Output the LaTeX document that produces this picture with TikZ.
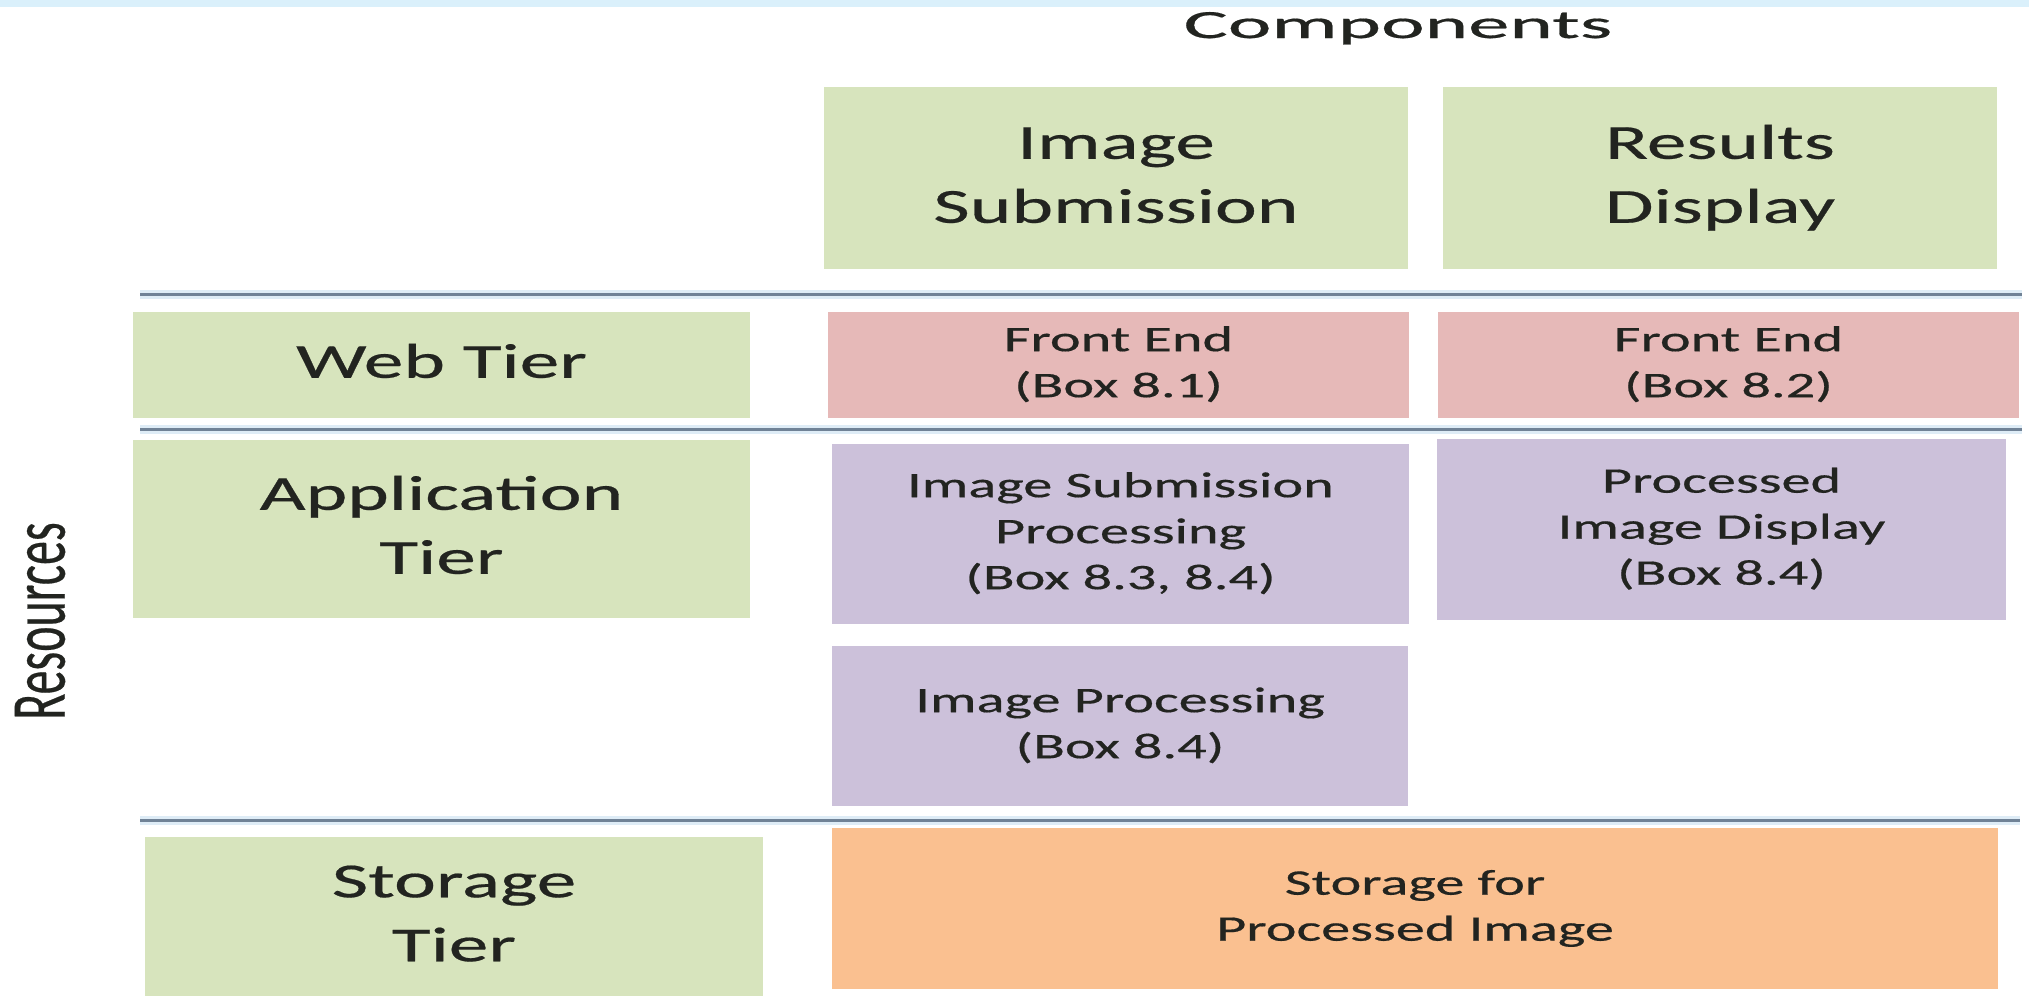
\documentclass[tikz,border=0pt]{standalone}
\usepackage{fontspec}
\setmainfont{Carlito}[FakeBold=0.4]
\usepackage{graphicx}

\definecolor{tiergreen}{RGB}{215,228,189}
\definecolor{frontred}{RGB}{230,185,184}
\definecolor{appviolet}{RGB}{204,193,218}
\definecolor{storeorange}{RGB}{250,192,144}
\definecolor{bandblue}{RGB}{218,240,251}
\definecolor{rulecore}{RGB}{112,130,150}
\definecolor{rulehalo}{RGB}{222,236,246}
\definecolor{ink}{RGB}{34,36,32}

% text is set wide: glyphs stretched horizontally
\newcommand\wide[1]{\scalebox{1.62}[1]{\begin{tabular}{@{}c@{}}#1\end{tabular}}}
% a filled cell given by its corners in pixel units
\newcommand\cell[7]{%
  \node[#2, minimum width={(#5-#3)*0.5pt}, minimum height={(#6-#4)*0.5pt}]
    (#1) at ({(#3+#5)/2},{(#4+#6)/2}) {#7};}

\tikzset{
  cellbase/.style={rectangle, inner sep=0pt, outer sep=0pt, text=ink, align=center},
  bigcell/.style={cellbase, font=\fontsize{24.5}{32}\selectfont},
  smallcell/.style={cellbase, font=\fontsize{18}{23}\selectfont},
  greencell/.style={bigcell, fill=tiergreen},
  redcell/.style={smallcell, fill=frontred},
  violetcell/.style={smallcell, fill=appviolet},
  orangecell/.style={smallcell, fill=storeorange},
  sepline/.style={draw=rulecore, line width=1.5pt,
    preaction={draw=rulehalo, line width=4.5pt}},
  axislabel/.style={inner sep=0pt, text=ink}
}

\begin{document}
\begin{tikzpicture}[x=0.5pt, y=-0.5pt]
  \useasboundingbox (0,0) rectangle (2029,1002);
  \fill[white] (0,0) rectangle (2029,1002);
  \fill[bandblue] (0,0) rectangle (2029,7);

  % axis titles
  \node[axislabel, anchor=base, font=\fontsize{20}{24}\selectfont]
    (components) at (1398,38) {\scalebox{2.07}[1]{Components}};
  \node[axislabel, rotate=90, font=\fontsize{24}{28}\selectfont]
    (resources) at (40,621) {\scalebox{1}[1.62]{Resources}};

  % component headers
  \cell{imgsub}{greencell}{824}{87}{1408}{269}{\wide{Image\\Submission}}
  \cell{resdisp}{greencell}{1443}{87}{1997}{269}{\wide{Results\\Display}}

  % separators between tiers
  \coordinate (r1a) at (140,294);  \coordinate (r1b) at (2022,294);
  \coordinate (r2a) at (140,429);  \coordinate (r2b) at (2022,429);
  \coordinate (r3a) at (140,820);  \coordinate (r3b) at (2020,820);
  \draw[sepline] (r1a) -- (r1b);
  \draw[sepline] (r2a) -- (r2b);
  \draw[sepline] (r3a) -- (r3b);

  % web tier
  \cell{webtier}{greencell}{133}{312}{750}{418}{\wide{Web Tier}}
  \cell{fe1}{redcell}{828}{312}{1409}{418}{\wide{Front End\\(Box 8.1)}}
  \cell{fe2}{redcell}{1438}{312}{2019}{418}{\wide{Front End\\(Box 8.2)}}

  % application tier
  \cell{apptier}{greencell}{133}{440}{750}{618}{\wide{Application\\Tier}}
  \cell{isp}{violetcell}{832}{444}{1409}{624}{\wide{Image Submission\\Processing\\(Box 8.3, 8.4)}}
  \cell{pid}{violetcell}{1437}{439}{2006}{620}{\wide{Processed\\Image Display\\(Box 8.4)}}
  \cell{improc}{violetcell}{832}{646}{1408}{806}{\wide{Image Processing\\(Box 8.4)}}

  % storage tier
  \cell{storetier}{greencell}{145}{837}{763}{996}{\wide{Storage\\Tier}}
  \cell{store}{orangecell}{832}{828}{1998}{989}{\wide{Storage for\\Processed Image}}
\end{tikzpicture}
\end{document}
